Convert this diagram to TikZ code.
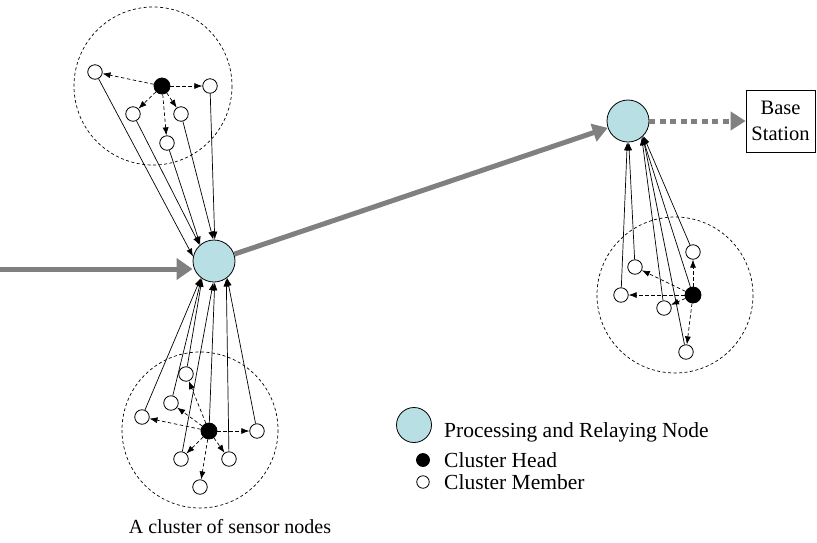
\documentclass[tikz,border=0pt]{standalone}
\usepackage{fontspec}
\setmainfont{Liberation Serif}
\usetikzlibrary{arrows.meta}
\definecolor{relayblue}{RGB}{184,224,228}
\definecolor{arrowgray}{RGB}{128,128,128}
\begin{document}
\begin{tikzpicture}[x=1pt,y=-1pt,
  member/.style={circle,draw,fill=white,inner sep=0pt,minimum size=14.5pt,line width=0.8pt},
  head/.style={circle,fill=black,draw,inner sep=0pt,minimum size=16pt,line width=0.8pt},
  relay/.style={circle,draw,fill=relayblue,inner sep=0pt,minimum size=42pt,line width=0.8pt},
  clusterring/.style={draw,dashed,dash pattern=on 3pt off 2.5pt,line width=0.7pt},
  sarrow/.style={line width=0.7pt,-{Latex[length=8pt,width=6pt]}},
  darrow/.style={line width=0.7pt,dash pattern=on 3.5pt off 2.5pt,-{Latex[length=8pt,width=6pt]}},
  bigarrow/.style={draw=arrowgray,line width=5pt,-{Triangle[length=15pt,width=18pt,fill=arrowgray]}},
  lbl/.style={font=\fontsize{21.5}{24}\selectfont,inner sep=0pt}
]
\useasboundingbox (0,0) rectangle (817,542);

% cluster rings
\draw[clusterring] (153,86) circle (79);
\draw[clusterring] (200,430) circle (78);
\draw[clusterring] (675,295) circle (78);

% relaying nodes
\node[relay] (P1) at (214,261) {};
\node[relay] (P2) at (628,121) {};

% top cluster
\node[head] (H1) at (162,86) {};
\node[member] (A1) at (95,72) {};
\node[member] (A2) at (210,86) {};
\node[member] (A3) at (133,114) {};
\node[member] (A4) at (181,114) {};
\node[member] (A5) at (167,143) {};

% bottom cluster
\node[head] (H2) at (209,431) {};
\node[member] (B1) at (142,417) {};
\node[member] (B2) at (171,403) {};
\node[member] (B3) at (186,374) {};
\node[member] (B4) at (257,431) {};
\node[member] (B5) at (181,459) {};
\node[member] (B6) at (229,459) {};
\node[member] (B7) at (200,487) {};

% right cluster
\node[head] (H3) at (693,295) {};
\node[member] (C1) at (693,252) {};
\node[member] (C2) at (635,267) {};
\node[member] (C3) at (621,295) {};
\node[member] (C4) at (664,308) {};
\node[member] (C5) at (686,352) {};

% base station
\node[draw,line width=0.7pt,minimum width=69pt,minimum height=62pt,inner sep=0pt,align=center,
      font=\fontsize{20.5}{26}\selectfont] (BS) at (780.5,121) {Base\\Station};

% intra-cluster dashed arrows
\foreach \m in {A1,A2,A3,A4,A5} \draw[darrow] (H1) -- (\m);
\foreach \m in {B1,B2,B3,B4,B5,B6,B7} \draw[darrow] (H2) -- (\m);
\foreach \m in {C1,C2,C3,C4,C5} \draw[darrow] (H3) -- (\m);

% members to relay
\draw[sarrow] (A1) -- (P1.168);
\draw[sarrow] (A3) -- (P1.132);
\draw[sarrow] (A5) -- (P1.130);
\draw[sarrow] (A4) -- (P1.92);
\draw[sarrow] (A2) -- (P1.88);

\draw[sarrow] (B1) -- (P1.232);
\draw[sarrow] (B2) -- (P1.234);
\draw[sarrow] (B3) -- (P1.236);
\draw[sarrow] (B5) -- (P1.268);
\draw[sarrow] (H2) -- (P1.272);
\draw[sarrow] (B6) -- (P1.305);
\draw[sarrow] (B4) -- (P1.308);

\draw[sarrow] (C3) -- (P2.268);
\draw[sarrow] (C2) -- (P2.272);
\draw[sarrow] (C4) -- (P2.310);
\draw[sarrow] (H3) -- (P2.312);
\draw[sarrow] (C5) -- (P2.314);
\draw[sarrow] (C1) -- (P2.316);

% thick gray arrows
\coordinate (IN) at (0,269);
\draw[bigarrow,-{Triangle[length=16pt,width=21pt,fill=arrowgray]}] (IN) -- (P1.west |- IN) ;
\draw[bigarrow] (P1) -- (P2);
\draw[bigarrow,dash pattern=on 6pt off 4.5pt] (P2) -- (BS);

% legend
\node[relay,minimum size=35pt] (L1) at (414,425) {};
\node[head,minimum size=13pt] (L2) at (423,460) {};
\node[member,minimum size=12.5pt] (L3) at (423,482) {};
\node[lbl,anchor=base west] (T1) at (444,437) {Processing and Relaying Node};
\node[lbl,anchor=base west] (T2) at (444,467) {Cluster Head};
\node[lbl,anchor=base west] (T3) at (444,489) {Cluster Member};

% caption
\node[lbl,font=\fontsize{20}{24}\selectfont,anchor=base] (CAP) at (230,533) {A cluster of sensor nodes};
\end{tikzpicture}
\end{document}
